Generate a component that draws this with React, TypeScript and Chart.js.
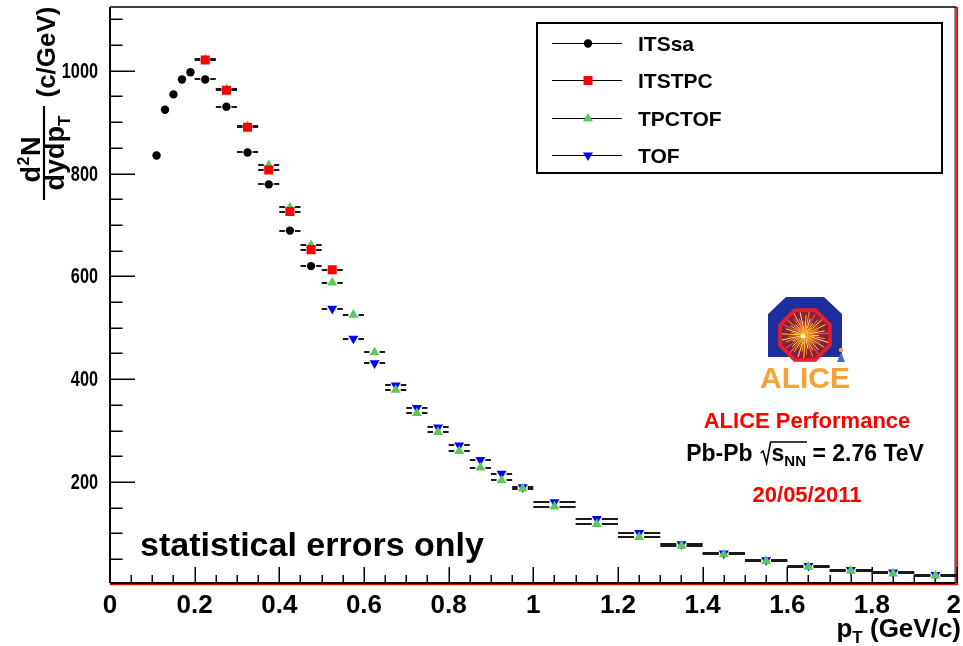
import React, { useEffect, useRef } from "react";
import { Chart, registerables } from "chart.js";

Chart.register(...registerables);

// ---- spectra: d2N/dydpT (c/GeV) vs pT (GeV/c) ----
const itsSaPt = [0.11, 0.13, 0.15, 0.17, 0.19, 0.225, 0.275, 0.325, 0.375, 0.425, 0.475];
const itsSaHalfWidth = [0.01, 0.01, 0.01, 0.01, 0.01, 0.025, 0.025, 0.025, 0.025, 0.025, 0.025];
const itsSaYield = [835, 924, 954, 983, 997, 983, 930, 841, 779, 689, 620];

const itsTpcPt = [0.225, 0.275, 0.325, 0.375, 0.425, 0.475, 0.525];
const itsTpcHalfWidth = [0.025, 0.025, 0.025, 0.025, 0.025, 0.025, 0.025];
const itsTpcYield = [1021, 962, 890, 807, 726, 652, 613];

const tpcTofPt = [
  0.225, 0.275, 0.325, 0.375, 0.425, 0.475, 0.525, 0.575, 0.625, 0.675, 0.725, 0.775, 0.825, 0.875,
  0.925, 0.975, 1.05, 1.15, 1.25, 1.35, 1.45, 1.55, 1.65, 1.75, 1.85, 1.95,
];
const tpcTofHalfWidth = [
  0.025, 0.025, 0.025, 0.025, 0.025, 0.025, 0.025, 0.025, 0.025, 0.025, 0.025, 0.025, 0.025, 0.025,
  0.025, 0.025, 0.05, 0.05, 0.05, 0.05, 0.05, 0.05, 0.05, 0.05, 0.05, 0.05,
];
const tpcTofYield = [
  1022, 964, 892, 816, 734, 661, 588, 525, 452, 379, 334, 297, 260, 228, 203, 187, 152, 118, 93, 76,
  59, 46, 35, 27, 22, 18,
];

const tofPt = [
  0.525, 0.575, 0.625, 0.675, 0.725, 0.775, 0.825, 0.875, 0.925, 0.975, 1.05, 1.15, 1.25, 1.35, 1.45,
  1.55, 1.65, 1.75, 1.85, 1.95,
];
const tofHalfWidth = [
  0.025, 0.025, 0.025, 0.025, 0.025, 0.025, 0.025, 0.025, 0.025, 0.025, 0.05, 0.05, 0.05, 0.05, 0.05,
  0.05, 0.05, 0.05, 0.05, 0.05,
];
const tofYield = [537, 479, 431, 388, 344, 306, 271, 243, 216, 190, 161, 128, 101, 79, 61, 48, 37, 29, 24, 19.5];

// axis ticks and labels
const xTickValues = [0, 0.2, 0.4, 0.6, 0.8, 1, 1.2, 1.4, 1.6, 1.8, 2];
const xTickLabels = ["0", "0.2", "0.4", "0.6", "0.8", "1", "1.2", "1.4", "1.6", "1.8", "2"];
const yTickValues = [200, 400, 600, 800, 1000];
const yTickLabels = ["200", "400", "600", "800", "1000"];

const seriesNames = ["ITSsa", "ITSTPC", "TPCTOF", "TOF"];
const seriesColors = ["#000000", "#ff0000", "#5cc85c", "#0000ff"];

const FONT = '"Liberation Sans", Arial, Helvetica, sans-serif';
const font = (px: number) => `bold ${px}px ${FONT}`;

type Ctx = CanvasRenderingContext2D;

function seg(ctx: Ctx, x1: number, y1: number, x2: number, y2: number) {
  ctx.beginPath();
  ctx.moveTo(x1, y1);
  ctx.lineTo(x2, y2);
  ctx.stroke();
}

function marker(ctx: Ctx, kind: number, x: number, y: number) {
  ctx.fillStyle = seriesColors[kind];
  ctx.beginPath();
  if (kind === 0) {
    ctx.arc(x, y, 4.2, 0, Math.PI * 2);
  } else if (kind === 1) {
    ctx.rect(x - 4.5, y - 4.5, 9, 9);
  } else if (kind === 2) {
    ctx.moveTo(x, y - 5.5);
    ctx.lineTo(x + 5, y + 3);
    ctx.lineTo(x - 5, y + 3);
    ctx.closePath();
  } else {
    ctx.moveTo(x, y + 5.5);
    ctx.lineTo(x + 5, y - 3);
    ctx.lineTo(x - 5, y - 3);
    ctx.closePath();
  }
  ctx.fill();
}

const frameAndErrors = {
  id: "frameAndErrors",
  beforeDatasetsDraw(chart: any) {
    const { ctx, chartArea, scales } = chart;
    const { left, right, top, bottom } = chartArea;
    const xs = scales.x;
    const ys = scales.y;
    ctx.save();

    // frame
    ctx.strokeStyle = "#000";
    ctx.lineWidth = 1.5;
    seg(ctx, left, top, right, top);
    ctx.lineWidth = 1;
    seg(ctx, right - 1.5, top, right - 1.5, bottom);
    ctx.strokeStyle = "#e01010";
    ctx.lineWidth = 2;
    seg(ctx, right + 0.5, top, right + 0.5, bottom + 2);
    ctx.lineWidth = 1.5;
    seg(ctx, left, bottom + 1.5, right + 1, bottom + 1.5);
    ctx.strokeStyle = "#000";
    ctx.lineWidth = 2;
    seg(ctx, left, top, left, bottom);
    seg(ctx, left, bottom, right - 1, bottom);

    // x ticks
    ctx.lineWidth = 1.5;
    for (let i = 0; i <= 40; i++) {
      const px = Math.round(xs.getPixelForValue(i * 0.05)) + 0.25;
      const len = i % 4 === 0 ? 16 : 8;
      seg(ctx, px, bottom, px, bottom - len);
    }
    // y ticks
    for (let v = 50; v <= 1100; v += 50) {
      const py = Math.round(ys.getPixelForValue(v)) + 0.25;
      const len = v % 200 === 0 ? 25 : 12.5;
      seg(ctx, left, py, left + len, py);
    }

    // tick labels
    ctx.fillStyle = "#000";
    ctx.font = font(26);
    ctx.textAlign = "center";
    ctx.textBaseline = "alphabetic";
    xTickValues.forEach((v, i) => {
      let px = xs.getPixelForValue(v);
      const w = ctx.measureText(xTickLabels[i]).width;
      if (px + w / 2 > chart.width - 2) px = chart.width - 2 - w / 2;
      ctx.fillText(xTickLabels[i], px, 613);
    });
    ctx.font = font(22);
    ctx.textAlign = "right";
    ctx.textBaseline = "middle";
    yTickValues.forEach((v, i) => {
      ctx.save();
      ctx.translate(98, ys.getPixelForValue(v) + 1);
      ctx.scale(0.74, 1);
      ctx.fillText(yTickLabels[i], 0, 0);
      ctx.restore();
    });

    // horizontal bin-width bars
    ctx.strokeStyle = "#1a1a1a";
    ctx.lineWidth = 2;
    chart.data.datasets.forEach((ds: any) => {
      ds.data.forEach((p: any, i: number) => {
        const hw = ds.halfWidths[i];
        const cx = xs.getPixelForValue(p.x);
        const cy = Math.round(ys.getPixelForValue(p.y));
        const l = xs.getPixelForValue(p.x - hw);
        const r = xs.getPixelForValue(p.x + hw);
        const gap = 5;
        if (cx - gap > l + 0.5) {
          seg(ctx, l, cy, cx - gap, cy);
          seg(ctx, cx + gap, cy, r, cy);
        }
      });
    });
    ctx.restore();
  },
  afterDatasetsDraw(chart: any) {
    const { ctx } = chart;
    ctx.save();
    drawAxisTitles(ctx);
    drawLegend(ctx);
    drawLogo(ctx);
    drawLabels(ctx);
    ctx.restore();
  },
};

function drawAxisTitles(ctx: Ctx) {
  ctx.fillStyle = "#000";
  ctx.textBaseline = "alphabetic";
  ctx.textAlign = "left";

  // x title: pT (GeV/c)
  ctx.font = font(26);
  const rest = " (GeV/c)";
  const wRest = ctx.measureText(rest).width;
  const wp = ctx.measureText("p").width;
  ctx.font = font(17);
  const wT = ctx.measureText("T").width;
  const xEnd = 961;
  const x0 = xEnd - wRest - wT - wp;
  ctx.font = font(26);
  ctx.fillText("p", x0, 637);
  ctx.font = font(17);
  ctx.fillText("T", x0 + wp, 643);
  ctx.font = font(26);
  ctx.fillText(rest, x0 + wp + wT, 637);

  // y title, rotated: d2N / dydpT (c/GeV)
  ctx.save();
  ctx.rotate(-Math.PI / 2);
  // in this frame: u = -pageY, v = pageX
  ctx.font = font(27);
  const wd = ctx.measureText("d").width;
  const wN = ctx.measureText("N").width;
  ctx.font = font(16);
  const w2 = ctx.measureText("2").width;
  let u = -160 - (wd + w2 + wN) / 2;
  ctx.font = font(27);
  ctx.fillText("d", u, 40);
  ctx.font = font(16);
  ctx.fillText("2", u + wd + 0.5, 29);
  ctx.font = font(27);
  ctx.fillText("N", u + wd + w2 + 1, 40);
  // fraction bar
  ctx.strokeStyle = "#000";
  ctx.lineWidth = 2.2;
  seg(ctx, -200, 44, -106, 44);
  // denominator
  ctx.font = font(27);
  const wden = ctx.measureText("dydp").width;
  ctx.font = font(17);
  const wTT = ctx.measureText("T").width;
  u = -153 - (wden + wTT) / 2;
  ctx.font = font(27);
  ctx.fillText("dydp", u, 64);
  ctx.font = font(17);
  ctx.fillText("T", u + wden, 70);
  // units
  ctx.font = font(26);
  ctx.textAlign = "center";
  ctx.fillText("(c/GeV)", -52, 55);
  ctx.restore();
}

function drawLegend(ctx: Ctx) {
  ctx.fillStyle = "#fff";
  ctx.fillRect(537, 23, 405, 150);
  ctx.strokeStyle = "#000";
  ctx.lineWidth = 2;
  ctx.strokeRect(537, 23, 405, 150);
  const rows = [43, 80, 118, 155];
  ctx.font = font(21);
  ctx.textAlign = "left";
  ctx.textBaseline = "alphabetic";
  seriesNames.forEach((name, i) => {
    const y = rows[i] + 0.5;
    ctx.strokeStyle = "#000";
    ctx.lineWidth = 1;
    seg(ctx, 552, y, 622, y);
    marker(ctx, i, 588, y);
    ctx.fillStyle = "#000";
    ctx.fillText(name, 638, rows[i] + 7.5);
  });
}

function octagon(ctx: Ctx, cx: number, cy: number, r: number) {
  ctx.beginPath();
  for (let k = 0; k < 8; k++) {
    const a = Math.PI / 8 + (k * Math.PI) / 4;
    const px = cx + r * Math.cos(a);
    const py = cy + r * Math.sin(a);
    if (k === 0) ctx.moveTo(px, py);
    else ctx.lineTo(px, py);
  }
  ctx.closePath();
}

function drawLogo(ctx: Ctx) {
  const cx = 805;
  const cy = 335;
  // magnet yoke
  ctx.fillStyle = "#1d2f9e";
  ctx.beginPath();
  ctx.moveTo(786, 297);
  ctx.lineTo(824, 297);
  ctx.lineTo(842, 314);
  ctx.lineTo(842, 357);
  ctx.lineTo(768, 357);
  ctx.lineTo(768, 314);
  ctx.closePath();
  ctx.fill();
  // detector barrel
  ctx.fillStyle = "#e4202a";
  octagon(ctx, cx, cy, 29);
  ctx.fill();
  ctx.fillStyle = "#8a1f3f";
  octagon(ctx, cx, cy, 25);
  ctx.fill();
  ctx.save();
  octagon(ctx, cx, cy, 25);
  ctx.clip();
  const rayColors = ["#ffd21f", "#ff9a1a", "#ffe870", "#f26b1d"];
  ctx.lineWidth = 1;
  for (let k = 0; k < 48; k++) {
    const a = (k * Math.PI * 2) / 48 + 0.05;
    const len = 14 + ((k * 7) % 5) * 3;
    ctx.strokeStyle = rayColors[k % 4];
    seg(ctx, cx, cy, cx + len * Math.cos(a), cy + len * Math.sin(a));
  }
  ctx.fillStyle = "#fff4b0";
  ctx.beginPath();
  ctx.arc(cx - 2, cy + 1, 2.5, 0, Math.PI * 2);
  ctx.fill();
  ctx.restore();
  // small figure at the side
  ctx.fillStyle = "#f0a040";
  ctx.beginPath();
  ctx.arc(841, 350, 2.2, 0, Math.PI * 2);
  ctx.fill();
  ctx.fillStyle = "#3a6ad0";
  ctx.beginPath();
  ctx.moveTo(841, 352);
  ctx.lineTo(845, 362);
  ctx.lineTo(837, 362);
  ctx.closePath();
  ctx.fill();
  // name
  ctx.fillStyle = "#f7a234";
  ctx.font = font(30);
  ctx.textAlign = "center";
  ctx.textBaseline = "alphabetic";
  ctx.fillText("ALICE", 805, 388);
}

function drawLabels(ctx: Ctx) {
  ctx.textBaseline = "alphabetic";
  ctx.textAlign = "left";
  ctx.fillStyle = "#000";
  ctx.font = font(34);
  ctx.fillText("statistical errors only", 140, 556);

  ctx.textAlign = "center";
  ctx.fillStyle = "#ff0000";
  ctx.font = font(22);
  ctx.fillText("ALICE Performance", 807, 428);
  ctx.fillText("20/05/2011", 807, 502);

  // Pb-Pb sqrt(sNN) = 2.76 TeV
  ctx.fillStyle = "#000";
  ctx.textAlign = "left";
  ctx.font = font(23);
  const a = "Pb-Pb";
  const wa = ctx.measureText(a).width;
  const ws = ctx.measureText("s").width;
  const c = " = 2.76 TeV";
  const wc = ctx.measureText(c).width;
  ctx.font = font(15);
  const wnn = ctx.measureText("NN").width;
  const gapA = 8;
  const wRad = 11;
  const total = wa + gapA + wRad + ws + wnn + wc;
  let x = 805 - total / 2;
  const base = 461;
  ctx.font = font(23);
  ctx.fillText(a, x, base);
  x += wa + gapA;
  // radical sign
  ctx.strokeStyle = "#000";
  ctx.lineWidth = 1.6;
  ctx.beginPath();
  ctx.moveTo(x, base - 8);
  ctx.lineTo(x + 2.5, base - 10);
  ctx.lineTo(x + 6, base + 2);
  ctx.lineTo(x + 10, base - 19);
  ctx.lineTo(x + wRad + ws + wnn + 1, base - 19);
  ctx.stroke();
  x += wRad;
  ctx.fillText("s", x, base);
  x += ws;
  ctx.font = font(15);
  ctx.fillText("NN", x, base + 5);
  x += wnn;
  ctx.font = font(23);
  ctx.fillText(c, x, base);
}

function pts(xs: number[], ys: number[]) {
  return xs.map((x, i) => ({ x, y: ys[i] }));
}

export default function App() {
  const ref = useRef<HTMLCanvasElement | null>(null);

  useEffect(() => {
    document.body.style.margin = "0";
    const canvas = ref.current;
    if (!canvas) return;
    const chart = new Chart(canvas, {
      type: "scatter",
      data: {
        datasets: [
          {
            label: seriesNames[0],
            data: pts(itsSaPt, itsSaYield),
            halfWidths: itsSaHalfWidth,
            pointStyle: "circle",
            pointRadius: 4.2,
            pointBackgroundColor: seriesColors[0],
            pointBorderWidth: 0,
          },
          {
            label: seriesNames[1],
            data: pts(itsTpcPt, itsTpcYield),
            halfWidths: itsTpcHalfWidth,
            pointStyle: "rect",
            pointRadius: 6.4,
            pointBackgroundColor: seriesColors[1],
            pointBorderWidth: 0,
          },
          {
            label: seriesNames[2],
            data: pts(tpcTofPt, tpcTofYield),
            halfWidths: tpcTofHalfWidth,
            pointStyle: "triangle",
            pointRadius: 5.8,
            pointBackgroundColor: seriesColors[2],
            pointBorderWidth: 0,
          },
          {
            label: seriesNames[3],
            data: pts(tofPt, tofYield),
            halfWidths: tofHalfWidth,
            pointStyle: "triangle",
            pointRotation: 180,
            pointRadius: 5.8,
            pointBackgroundColor: seriesColors[3],
            pointBorderWidth: 0,
          },
        ] as any,
      },
      options: {
        responsive: false,
        animation: false,
        devicePixelRatio: 1,
        layout: { padding: { left: 110, right: 3, top: 7, bottom: 63 } },
        scales: {
          x: { type: "linear", min: 0, max: 2, display: false },
          y: { type: "linear", min: 3.5, max: 1124, display: false },
        },
        plugins: {
          legend: { display: false },
          tooltip: { enabled: false },
        },
        showLine: false,
      } as any,
      plugins: [frameAndErrors],
    });
    return () => chart.destroy();
  }, []);

  return (
    <div style={{ width: 963, height: 646, background: "#fff" }}>
      <canvas ref={ref} width={963} height={646} style={{ display: "block" }} />
    </div>
  );
}
